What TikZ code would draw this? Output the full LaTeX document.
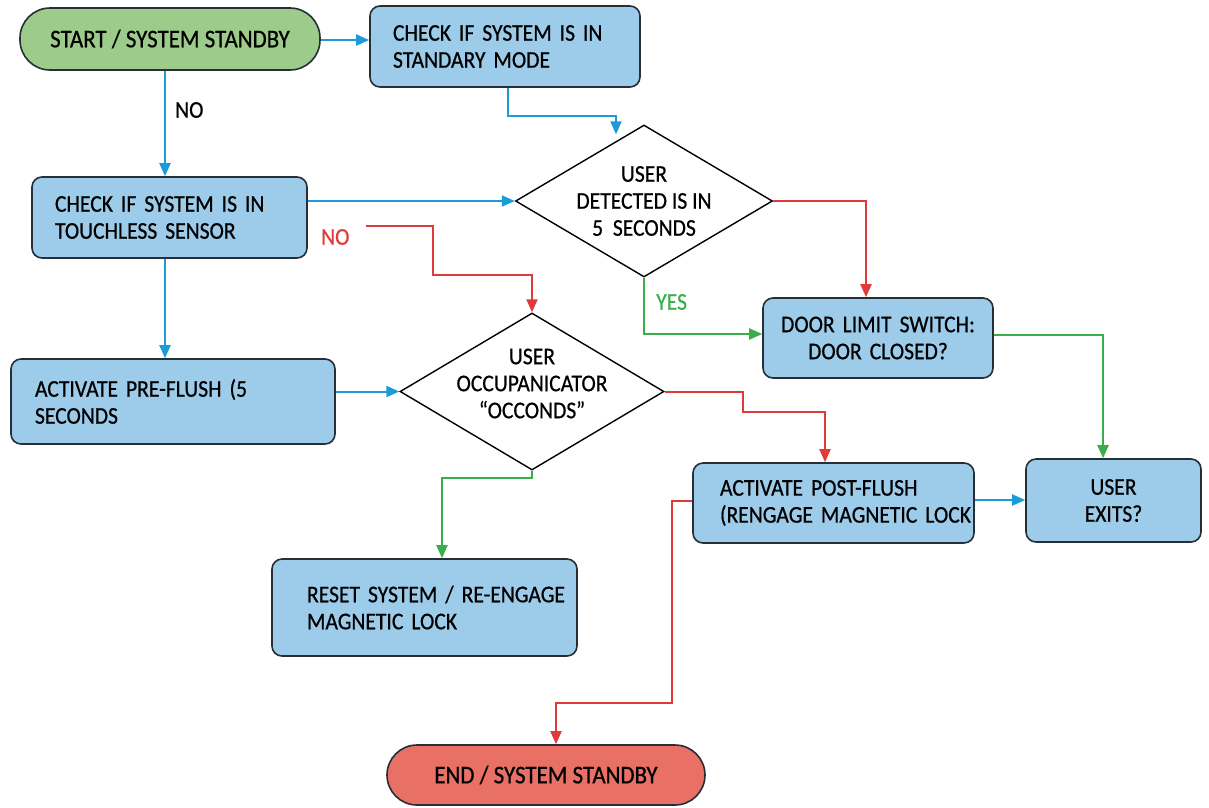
\documentclass[tikz,border=0pt]{standalone}
\usepackage{fontspec}
\setmainfont{Carlito}[FakeStretch=0.9, FakeBold=0.6]
\usetikzlibrary{shapes.geometric,arrows.meta}

\definecolor{boxblue}{RGB}{157,203,234}
\definecolor{startgreen}{RGB}{157,203,138}
\definecolor{endred}{RGB}{232,112,100}
\definecolor{edgedark}{RGB}{38,46,54}
\definecolor{arrblue}{RGB}{27,155,216}
\definecolor{arrred}{RGB}{224,58,58}
\definecolor{arrgreen}{RGB}{58,174,74}

\newcommand\flowfont{\fontsize{24}{27}\selectfont}
\newcommand\termfont{\fontsize{25.5}{27}\selectfont}
\newcommand\oneline[1]{\mbox{#1}}
\hfuzz=100pt

\tikzset{
  proc/.style={rectangle, rounded corners=10pt, draw=edgedark, line width=1.6pt,
    fill=boxblue, inner xsep=23pt, inner ysep=0pt, align=left, font=\flowfont},
  procc/.style={proc, align=center},
  term/.style={rectangle, rounded corners=30pt, draw=edgedark, line width=1.6pt,
    inner sep=0pt, font=\termfont},
  dec/.style={diamond, draw=black, line width=1.4pt, fill=white, inner sep=0pt},
  flow/.style={line width=2pt, -{Triangle[length=13pt,width=11pt]}},
  flowb/.style={flow, arrblue},
  flowr/.style={flow, arrred},
  flowg/.style={flow, arrgreen},
  tag/.style={font=\flowfont, inner sep=0pt}
}

\begin{document}
\begin{tikzpicture}[x=1pt, y=-1pt]
  \useasboundingbox (0,0) rectangle (1209,807);

  % boxes
  \node[term, fill=startgreen, minimum width=300pt, minimum height=62pt] (start) at (170,39) {START / SYSTEM STANDBY};
  \node[proc, minimum width=270pt, minimum height=81pt, text width=224pt] (chk1) at (505,46.5) {\oneline{CHECK IF SYSTEM IS IN}\\STANDARY MODE};
  \node[proc, minimum width=275pt, minimum height=81pt, text width=229pt] (chk2) at (169.5,217.5) {\oneline{CHECK IF SYSTEM IS IN}\\TOUCHLESS SENSOR};
  \node[dec, minimum width=257pt, minimum height=152pt,
    label={[align=center, font=\flowfont]center:USER\\DETECTED IS IN\\5\ \ SECONDS}] (dia1) at (644,201) {};
  \node[proc, minimum width=324pt, minimum height=85pt, text width=276pt, inner xsep=24pt] (preflush) at (173,401.5) {ACTIVATE PRE-FLUSH (5\\SECONDS};
  \node[dec, minimum width=264pt, minimum height=157pt,
    label={[align=center, font=\flowfont, yshift=8pt]center:USER\\OCCUPANICATOR\\“OCCONDS”}] (dia2) at (532,391.5) {};
  \node[procc, minimum width=230pt, minimum height=80pt, text width=200pt, inner xsep=15pt] (door) at (878,338) {DOOR LIMIT SWITCH:\\DOOR CLOSED?};
  \node[proc, minimum width=281pt, minimum height=80pt, text width=227pt, inner xsep=27pt] (postflush) at (833.5,503) {\oneline{ACTIVATE POST-FLUSH}\\\oneline{(RENGAGE MAGNETIC LOCK}};
  \node[procc, minimum width=175pt, minimum height=83pt, text width=145pt, inner xsep=15pt] (exits) at (1113.5,500.5) {USER\\EXITS?};
  \node[proc, minimum width=305pt, minimum height=97pt, text width=235pt, inner xsep=35pt] (reset) at (424.5,607.5) {\oneline{RESET SYSTEM / RE-ENGAGE}\\MAGNETIC LOCK};
  \node[term, fill=endred, minimum width=318pt, minimum height=60pt] (end) at (546,775) {END / SYSTEM STANDBY};

  % labels
  \node[tag, anchor=west] (nolbl) at (175,110) {NO};
  \node[tag, anchor=west, text=arrred] (nolbl2) at (321,237) {NO};
  \node[tag, anchor=west, text=arrgreen] (yeslbl) at (656,302) {YES};

  % connectors
  \draw[flowb] (start.east |- 0,40) -- (chk1.west |- 0,40);
  \draw[flowb] ([xshift=-5pt]start.south) -- ([xshift=-5pt]start.south |- chk2.north);
  \draw[flowb] ([xshift=3pt]chk1.south) -- ++(0,28) -| ([xshift=-28pt,yshift=-10pt]dia1.north);
  \draw[flowb] (chk2.east |- dia1.west) -- (dia1.west);
  \draw[flowb] ([xshift=-4.5pt]chk2.south) -- ([xshift=-4.5pt]chk2.south |- preflush.north);
  \draw[flowr] ([xshift=16pt,yshift=11pt]nolbl2.east) -- ++(67,0) -- ++(0,49) -| (dia2.north);
  \draw[flowr] (dia1.east) -| ([xshift=-12pt]door.north);
  \draw[flowg] (dia1.south) |- ([yshift=4pt]door.west);
  \draw[flowb] (preflush.east |- dia2.west) -- (dia2.west);
  \draw[flowg] (dia2.south) -- ++(0,7) -| ([xshift=17.5pt]reset.north);
  \draw[flowr] (dia2.east) -- ++(78,0) -- ++(0,20) -| ([xshift=-8.5pt]postflush.north);
  \draw[flowb] ([yshift=3pt]postflush.east) -- ([yshift=3pt]postflush.east -| exits.west);
  \draw[flowg] ([yshift=3pt]door.east) -| ([xshift=-10.5pt]exits.north);
  \draw[flowr] ([yshift=2pt]postflush.west) -- ++(-20,0) -- ++(0,202) -| ([xshift=10pt]end.north);
\end{tikzpicture}
\end{document}
